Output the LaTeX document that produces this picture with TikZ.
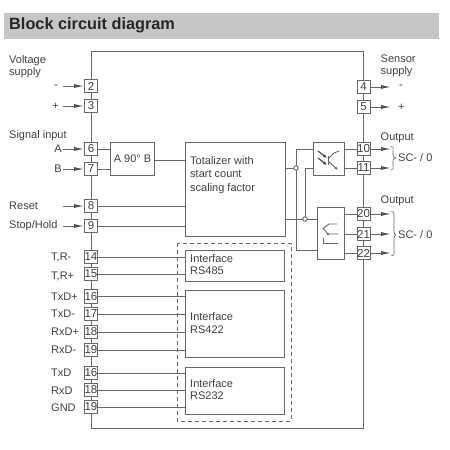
\documentclass[tikz,border=0pt]{standalone}
\usepackage{fontspec}
\setmainfont{Liberation Sans}
\usetikzlibrary{arrows.meta}
\definecolor{ln}{HTML}{666666}
\definecolor{tx}{HTML}{404040}
\tikzset{
  wire/.style={draw=ln,line width=1pt},
  term/.style={draw=ln,line width=1pt,fill=white,minimum width=13pt,minimum height=13.5pt,inner sep=0pt,font=\fontsize{11.5}{12}\selectfont,text=tx},
  blockbox/.style={draw=ln,line width=1pt,fill=white},
  lbl/.style={inner sep=0pt,font=\fontsize{11}{12}\selectfont,text=tx,align=left},
  lblwide/.style={lbl,font=\fontsize{11}{13.6}\selectfont},
  lblmid/.style={lbl,font=\fontsize{11}{12.6}\selectfont},
  sig/.style={wire,-{Latex[length=10pt,width=4pt,fill=black!55,color=black!70]}},
  junc/.style={circle,draw=ln,line width=0.9pt,fill=white,minimum size=4.5pt,inner sep=0pt},
}
\begin{document}
\begin{tikzpicture}[x=1pt,y=-1pt]
\useasboundingbox (0,0) rectangle (450,450);
\fill[white] (0,0) rectangle (450,450);
\fill[gray!45] (4,13) rectangle (439,38.5);
\node[anchor=west,inner sep=0pt,font=\fontsize{16.3}{18}\bfseries\selectfont,text=black!85] (title) at (9,25.5) {Block circuit diagram};
% frame
\draw[wire] (91,51) rectangle (363,428);
% blocks
\node[blockbox,minimum width=44pt,minimum height=33pt,anchor=north west,inner sep=0pt,font=\fontsize{11}{12}\selectfont,text=tx] (ab) at (110,142) {A 90° B};
\node[blockbox,minimum width=100pt,minimum height=94pt,anchor=north west] (tot) at (185,142) {};
\node[lblwide,anchor=west] (totl) at (190,175) {Totalizer with\\start count\\scaling factor};
\node[blockbox,minimum width=31pt,minimum height=33pt,anchor=north west] (opto) at (313,142) {};
\node[blockbox,minimum width=27pt,minimum height=52pt,anchor=north west] (rel) at (317,207) {};
\draw[ln,line width=0.8pt,dash pattern=on 4pt off 3pt] (177,243) rectangle (291,421);
\node[blockbox,minimum width=99pt,minimum height=31pt,anchor=north west] (i485) at (185,249.5) {};
\node[blockbox,minimum width=99pt,minimum height=67.5pt,anchor=north west] (i422) at (185,289.5) {};
\node[blockbox,minimum width=99pt,minimum height=47pt,anchor=north west] (i232) at (185,367) {};
\node[lblmid,anchor=west] (t485) at (190,264.5) {Interface\\RS485};
\node[lblmid,anchor=west] (t422) at (190,323) {Interface\\RS422};
\node[lblmid,anchor=west] (t232) at (190,389.5) {Interface\\RS232};
% left terminals
\foreach \n/\t/\y in {a2/2/86,a3/3/106,a6/6/149,a7/7/169,a8/8/206,a9/9/226,a14/14/257,a15/15/274,a16/16/296.5,a17/17/314,a18/18/332,a19/19/350,b16/16/373,b18/18/390,b19/19/407}
  \node[term] (\n) at (91,\y) {\t};
% right terminals
\foreach \n/\t/\y in {r4/4/87,r5/5/107,r10/10/149,r11/11/168,r20/20/214,r21/21/234,r22/22/253}
  \node[term] (\n) at (363.5,\y) {\t};
% wires
\draw[wire] (a6.east) -- (ab.west |- a6);
\draw[wire] (a7.east) -- (ab.west |- a7);
\draw[wire] (ab.east |- 0,160) -- (tot.west |- 0,160);
\draw[wire] (a8.east) -- (tot.west |- a8);
\draw[wire] (a9.east) -- (tot.west |- a9);
\draw[wire] (a14.east) -- (i485.west |- a14);
\draw[wire] (a15.east) -- (i485.west |- a15);
\foreach \n in {a16,a17,a18,a19} \draw[wire] (\n.east) -- (i422.west |- \n);
\foreach \n in {b16,b18,b19} \draw[wire] (\n.east) -- (i232.west |- \n);
\coordinate (j1) at (296,168);
\coordinate (j2) at (305,219);
\draw[wire] (tot.east |- j1) -- (j1);
\draw[wire] (opto.west |- 0,149) -| (296,250) -- (rel.west |- 0,250);
\draw[wire] (tot.east |- j2) -- (rel.west |- j2);
\draw[wire] (j2) -- (305,168) -- (opto.west |- 0,168);
\node[junc] (jn1) at (j1) {};
\node[junc] (jn2) at (j2) {};
\draw[wire] (opto.east |- r10) -- (r10.west);
\draw[wire] (opto.east |- r11) -- (r11.west);
\draw[wire] (rel.east |- r20) -- (r20.west);
\draw[wire] (rel.east |- r21) -- (r21.west);
\draw[wire] (rel.east |- r22) -- (r22.west);
% input arrows
\foreach \n/\y in {a2/86,a3/106,a6/149,a7/169,a8/206,a9/226}
  {\coordinate (s\n) at (63,\y); \draw[sig] (s\n) -- (\n.west);}
% output arrows
\foreach \n/\y in {r4/87,r5/107,r10/149,r11/168,r20/214,r21/234,r22/253}
  {\coordinate (e\n) at (391,\y); \draw[sig] (\n.east) -- (e\n);}
% left labels
\node[lbl,anchor=north west] (vs) at (9,55) {Voltage\\supply};
\node[lbl,anchor=east] (lm) at (58,86.5) {-};
\node[lbl,anchor=east] (lp) at (59,106.5) {+};
\node[lbl,anchor=west] (si) at (9,136) {Signal input};
\node[lbl,anchor=east] (la) at (62,148.5) {A};
\node[lbl,anchor=east] (lb) at (62,169) {B};
\node[lbl,anchor=west] (lr) at (9,206) {Reset};
\node[lbl,anchor=west] (ls) at (9,226) {Stop/Hold};
\foreach \n/\t/\y in {l14/{T,R-}/257,l15/{T,R+}/276,l16/{TxD+}/296.5,l17/{TxD-}/314,l18/{RxD+}/332,l19/{RxD-}/350,m16/{TxD}/373,m18/{RxD}/390.5,m19/{GND}/408}
  \node[lbl,anchor=west] (\n) at (51,\y) {\t};
% right labels
\node[lbl,anchor=north west] (ss) at (380.5,55) {Sensor\\supply};
\node[lbl,anchor=west] (om) at (399,87) {-};
\node[lbl,anchor=west] (op) at (398,107) {+};
\node[lbl,anchor=west] (o1) at (380.5,138) {Output};
\node[lbl,anchor=west] (o2) at (380.5,201) {Output};
\node[lbl,anchor=west] (sc1) at (398,158) {SC- / 0};
\node[lbl,anchor=west] (sc2) at (398,235) {SC- / 0};
\draw[ln,line width=0.6pt] (391,146) .. controls (394,146) and (393,148) .. (393,152) -- (393,155) .. controls (393,157) and (394,158) .. (396,158) .. controls (394,158) and (393,159) .. (393,161) -- (393,165) .. controls (393,168) and (394,170) .. (391,170);
\draw[ln,line width=0.6pt] (391,211) .. controls (394,211) and (394,213) .. (394,217) -- (394,231) .. controls (394,234) and (395,235) .. (396,235) .. controls (395,235) and (394,236) .. (394,239) -- (394,251) .. controls (394,255) and (394,256) .. (391,256);
% optocoupler symbol
\draw[ln,line width=0.9pt] (339,151) -- (334,153) -- (328,159);
\draw[ln,line width=1pt] (328,156) -- (328,165);
\draw[ln,line width=0.9pt,-{Latex[length=3.5pt,width=3pt]}] (328,161) -- (338,170);
\draw[black!70,line width=1.2pt,-{Latex[length=4pt,width=3.5pt]}] (318,151) -- (327,158);
\draw[black!70,line width=1.2pt,-{Latex[length=4pt,width=3.5pt]}] (318,158) -- (327,165);
% relay symbol
\draw[ln,line width=0.9pt] (337,224) -- (329,224) -- (323,228.5) -- (328,234) -- (338,234);
\draw[ln,line width=0.9pt] (323,238) -- (323,243) -- (338,243);
\fill[black!70] (328,234) circle (1.1pt);
\end{tikzpicture}
\end{document}
